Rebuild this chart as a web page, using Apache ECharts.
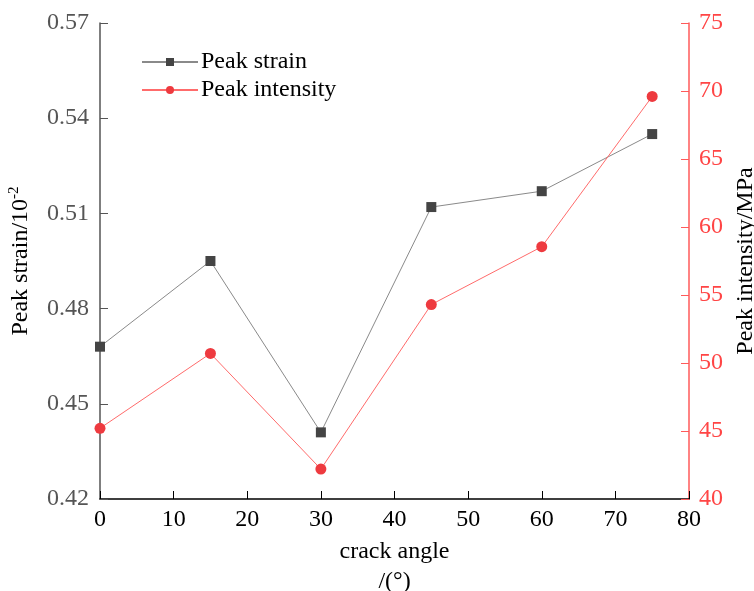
<!DOCTYPE html>
<html><head><meta charset="utf-8">
<script src="https://cdn.jsdelivr.net/npm/echarts@6/dist/echarts.min.js"></script>
<style>html,body{margin:0;padding:0;background:#fff}#c{width:754px;height:591px}</style>
</head><body><div id="c"></div>
<script>
const angles = [0, 15, 30, 45, 60, 75];
const peakStrain = [0.468, 0.495, 0.441, 0.512, 0.517, 0.535];
const peakIntensity = [45.2, 50.7, 42.2, 54.3, 58.55, 69.6];
const seriesNames = ['Peak strain', 'Peak intensity'];
const xTitle = 'crack angle\n/(°)';
const FONT = '"Liberation Serif", "Times New Roman", serif';
const FS = 24;

const chart = echarts.init(document.getElementById('c'), null, {renderer: 'canvas'});
chart.setOption({
  backgroundColor: '#fff',
  animation: false,
  grid: {left: 100, right: 65, top: 23, bottom: 92, containLabel: false, outerBoundsMode: 'none'},
  legend: {
    left: 136, top: 45, orient: 'vertical', itemGap: 4,
    itemWidth: 56, itemHeight: 10,
    textStyle: {fontFamily: FONT, fontSize: FS, color: '#000', padding: [0,0,0,-2]},
    data: seriesNames
  },
  xAxis: {
    type: 'value', min: 0, max: 80, interval: 10,
    name: xTitle, nameLocation: 'middle', nameGap: 36,
    nameTextStyle: {fontFamily: FONT, fontSize: FS, color: '#000', lineHeight: 30},
    axisLine: {lineStyle: {color: '#000', width: 1.5}},
    axisTick: {inside: true, length: 8, lineStyle: {color: '#000'}},
    axisLabel: {fontFamily: FONT, fontSize: FS, color: '#000', margin: 9},
    splitLine: {show: false}
  },
  yAxis: [{
    type: 'value', min: 0.42, max: 0.57, interval: 0.03,
    name: 'Peak strain/10{sup|-2}', nameLocation: 'middle', nameGap: 66,
    nameTextStyle: {fontFamily: FONT, fontSize: FS, color: '#000',
      rich: {sup: {fontFamily: FONT, fontSize: 15, color: '#000', verticalAlign: 'top', padding: [0,0,12,0]}}},
    axisLine: {show: true, lineStyle: {color: '#555', width: 1.5}},
    axisTick: {show: true, inside: true, length: 8, lineStyle: {color: '#555'}},
    axisLabel: {fontFamily: FONT, fontSize: FS, color: '#555', margin: 11,
      formatter: v => v.toFixed(2)},
    splitLine: {show: false}
  }, {
    type: 'value', min: 40, max: 75, interval: 5, position: 'right',
    name: 'Peak intensity/MPa', nameLocation: 'middle', nameGap: 44,
    nameTextStyle: {fontFamily: FONT, fontSize: FS, color: '#000'},
    axisLine: {show: true, lineStyle: {color: '#ff5a5a', width: 1.5}},
    axisTick: {show: true, inside: true, length: 8, lineStyle: {color: '#ff5a5a'}},
    axisLabel: {fontFamily: FONT, fontSize: FS, color: '#ff4545', margin: 10},
    splitLine: {show: false}
  }],
  series: [{
    name: seriesNames[0], type: 'line', yAxisIndex: 0,
    data: angles.map((a, i) => [a, peakStrain[i]]),
    symbol: 'rect', symbolSize: 10,
    itemStyle: {color: '#444'},
    lineStyle: {color: '#8a8a8a', width: 1}
  }, {
    name: seriesNames[1], type: 'line', yAxisIndex: 1,
    data: angles.map((a, i) => [a, peakIntensity[i]]),
    symbol: 'circle', symbolSize: 11,
    itemStyle: {color: '#ee3a3f'},
    lineStyle: {color: '#ff6b6b', width: 1}
  }]
});
</script></body></html>
